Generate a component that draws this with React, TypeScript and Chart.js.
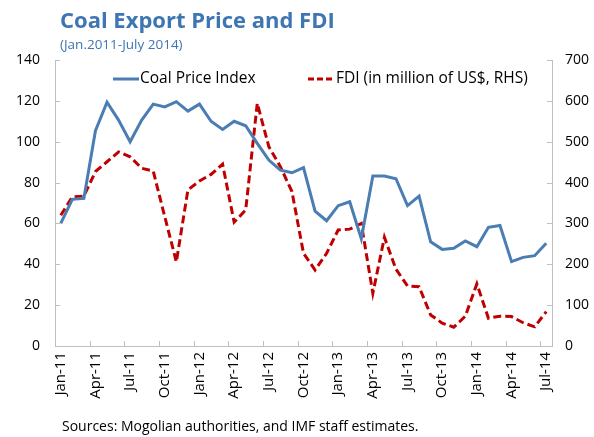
import React, { useEffect, useRef } from "react";
import { Chart, registerables } from "chart.js";
Chart.register(...registerables);

const months = [
  "Jan-11", "Feb-11", "Mar-11", "Apr-11", "May-11", "Jun-11", "Jul-11", "Aug-11", "Sep-11", "Oct-11", "Nov-11", "Dec-11",
  "Jan-12", "Feb-12", "Mar-12", "Apr-12", "May-12", "Jun-12", "Jul-12", "Aug-12", "Sep-12", "Oct-12", "Nov-12", "Dec-12",
  "Jan-13", "Feb-13", "Mar-13", "Apr-13", "May-13", "Jun-13", "Jul-13", "Aug-13", "Sep-13", "Oct-13", "Nov-13", "Dec-13",
  "Jan-14", "Feb-14", "Mar-14", "Apr-14", "May-14", "Jun-14", "Jul-14",
];

const coalPrice = [
  60, 71.8, 72.3, 105.4, 119.3, 110.6, 100, 110.6, 118.4, 117, 119.6, 115,
  118.4, 110, 106, 110, 107.8, 99.2, 91, 86.1, 84.8, 87.3, 66, 61.3,
  68.7, 70.6, 52.5, 83.2, 83.2, 81.9, 68.7, 73.4, 51, 47.3, 47.8, 51.4,
  48.6, 58.1, 59, 41.3, 43.4, 44.2, 50.3,
];

const fdi = [
  320, 365, 367, 427, 451, 475, 463, 435, 428, 316, 206, 382,
  404, 420, 445, 303, 333, 594, 488, 439, 378, 227, 186, 227,
  284, 286, 300, 129, 266, 188, 147, 145, 76, 56, 46, 73,
  152, 68, 73, 72, 57, 47, 84,
];

const titleText = "Coal Export Price and FDI";
const subtitleText = "(Jan.2011-July 2014)";
const sourceText = "Sources: Mogolian authorities, and IMF staff estimates.";
const coalLabel = "Coal Price Index";
const fdiLabel = "FDI (in million of US$, RHS)";

const FONT = "'Open Sans', Lato, sans-serif";
const BLUE = "#4a7db3";
const RED = "#c00000";
const AXIS = "#bfbfbf";
const TITLE_BLUE = "#3e76b2";

const decor = {
  id: "decor",
  afterDraw(chart: any) {
    const ctx = chart.ctx;
    const { left, right, bottom } = chart.chartArea;
    const xs = chart.scales.x;
    const ys = chart.scales.y;
    const y1 = chart.scales.y1;
    ctx.save();
    // inside tick marks
    ctx.strokeStyle = AXIS;
    ctx.lineWidth = 1;
    ctx.beginPath();
    ys.ticks.forEach((t: any) => {
      const p = Math.round(ys.getPixelForValue(t.value)) + 0.5;
      ctx.moveTo(left, p);
      ctx.lineTo(left + 5, p);
    });
    y1.ticks.forEach((t: any) => {
      const p = Math.round(y1.getPixelForValue(t.value)) + 0.5;
      ctx.moveTo(right, p);
      ctx.lineTo(right - 5, p);
    });
    for (let i = 3; i < months.length; i += 3) {
      const p = Math.round((xs.getPixelForValue(i - 1) + xs.getPixelForValue(i)) / 2) + 0.5;
      ctx.moveTo(p, bottom);
      ctx.lineTo(p, bottom - 5);
    }
    ctx.stroke();

    // title + subtitle
    ctx.fillStyle = TITLE_BLUE;
    ctx.textAlign = "left";
    ctx.textBaseline = "alphabetic";
    ctx.font = `bold 22px ${FONT}`;
    ctx.fillText(titleText, 60, 28);
    ctx.font = `13.5px ${FONT}`;
    ctx.fillText(subtitleText, 60, 49);

    // legend
    ctx.lineWidth = 3;
    ctx.strokeStyle = BLUE;
    ctx.beginPath();
    ctx.moveTo(113, 79);
    ctx.lineTo(139, 79);
    ctx.stroke();
    ctx.strokeStyle = RED;
    ctx.setLineDash([6, 3]);
    ctx.beginPath();
    ctx.moveTo(308, 79);
    ctx.lineTo(334, 79);
    ctx.stroke();
    ctx.setLineDash([]);
    ctx.fillStyle = "#000";
    ctx.font = `15.5px ${FONT}`;
    ctx.textBaseline = "middle";
    ctx.fillText(coalLabel, 140, 79);
    ctx.fillText(fdiLabel, 336, 79);

    // source
    ctx.font = `14px ${FONT}`;
    ctx.fillText(sourceText, 62, 427);
    ctx.restore();
  },
};

export default function App() {
  const ref = useRef<HTMLCanvasElement>(null);
  useEffect(() => {
    document.body.style.margin = "0";
    const tickFont = { family: FONT, size: 14 };
    const xTickFont = { family: FONT, size: 15 };
    const chart = new Chart(ref.current as HTMLCanvasElement, {
      type: "line",
      data: {
        labels: months,
        datasets: [
          {
            label: coalLabel,
            data: coalPrice,
            yAxisID: "y",
            borderColor: BLUE,
            borderWidth: 3,
            pointRadius: 0,
            tension: 0,
            fill: false,
          },
          {
            label: fdiLabel,
            data: fdi,
            yAxisID: "y1",
            borderColor: RED,
            borderWidth: 3,
            borderDash: [8, 4],
            pointRadius: 0,
            tension: 0,
            fill: false,
          },
        ],
      },
      options: {
        responsive: false,
        animation: false,
        layout: { padding: { top: 60, bottom: 31, left: 0, right: 0 } },
        plugins: {
          legend: { display: false },
          title: { display: false },
          tooltip: { enabled: false },
        },
        scales: {
          x: {
            type: "category",
            offset: true,
            grid: { display: true, drawOnChartArea: false, drawTicks: false },
            border: { display: true, color: AXIS, width: 1 },
            ticks: {
              autoSkip: false,
              maxRotation: 90,
              minRotation: 90,
              padding: 6,
              color: "#000",
              font: xTickFont,
              callback: (_v: any, i: number) => (i % 3 === 0 ? months[i] : ""),
            },
            afterFit: (s: any) => {
              s.height = 60;
            },
          },
          y: {
            position: "left",
            min: 0,
            max: 140,
            grid: { display: true, drawOnChartArea: false, drawTicks: false },
            border: { display: true, color: AXIS, width: 1 },
            ticks: { stepSize: 20, padding: 15, color: "#000", font: tickFont },
            afterFit: (s: any) => {
              s.width = 55;
            },
          },
          y1: {
            position: "right",
            min: 0,
            max: 700,
            grid: { display: true, drawOnChartArea: false, drawTicks: false },
            border: { display: true, color: AXIS, width: 1 },
            ticks: { stepSize: 100, padding: 13, color: "#000", font: tickFont },
            afterFit: (s: any) => {
              s.width = 42;
            },
          },
        },
      },
      plugins: [decor],
    });
    return () => chart.destroy();
  }, []);
  return <canvas ref={ref} width={594} height={437} style={{ display: "block" }} />;
}
